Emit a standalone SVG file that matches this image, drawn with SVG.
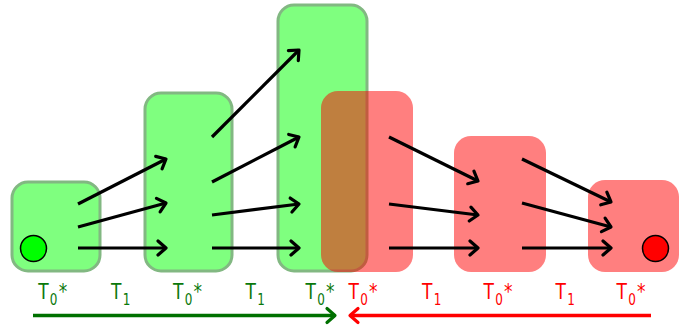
<svg xmlns="http://www.w3.org/2000/svg" width="694" height="326" viewBox="0 0 694 326">
<defs>
<style>
.gbox{fill:#00ff00;fill-opacity:0.5;stroke:#82b882;stroke-width:3}
.rbox{fill:#ff0000;fill-opacity:0.5;stroke:none}
.arr{stroke:#000;stroke-width:3.2;fill:none;marker-end:url(#ah)}
.lbl{font-family:"DejaVu Sans Condensed","DejaVu Sans",sans-serif;font-size:22px}
.g{fill:#0a780a}
.r{fill:#ff0000}
.sub{font-size:15.5px}
</style>
<marker id="ah" viewBox="-10 -10 20 20" markerWidth="20" markerHeight="20" refX="0" refY="0" orient="auto" markerUnits="userSpaceOnUse" overflow="visible">
<path d="M-8,-7 L0,0 L-8,7" fill="none" stroke="#000" stroke-width="3.2" stroke-linejoin="round" stroke-linecap="round"/>
</marker>
<marker id="ahg" viewBox="-10 -10 20 20" markerWidth="20" markerHeight="20" refX="0" refY="0" orient="auto" markerUnits="userSpaceOnUse" overflow="visible">
<path d="M-8,-7 L0,0 L-8,7" fill="none" stroke="#007000" stroke-width="3.2" stroke-linejoin="round" stroke-linecap="round"/>
</marker>
<marker id="ahr" viewBox="-10 -10 20 20" markerWidth="20" markerHeight="20" refX="0" refY="0" orient="auto" markerUnits="userSpaceOnUse" overflow="visible">
<path d="M-8,-7 L0,0 L-8,7" fill="none" stroke="#ff0000" stroke-width="3.2" stroke-linejoin="round" stroke-linecap="round"/>
</marker>
</defs>
<rect width="694" height="326" fill="#fff"/>
<g id="g1"><rect class="gbox" x="12" y="182" width="88" height="89" rx="16"/></g>
<g id="g2"><rect class="gbox" x="145" y="93" width="87" height="178" rx="16"/></g>
<g id="g3"><rect class="gbox" x="278" y="5" width="89" height="266" rx="16"/></g>
<g id="r1"><rect class="rbox" x="321" y="91" width="92" height="181" rx="17"/></g>
<g id="r2"><rect class="rbox" x="454" y="136" width="92" height="136" rx="17"/></g>
<g id="r3"><rect class="rbox" x="588" y="180" width="91" height="92" rx="17"/></g>
<g id="start"><circle cx="33.5" cy="248.5" r="13" fill="#00ff00" stroke="#000" stroke-width="1.5"/></g>
<g id="end"><circle cx="655.5" cy="248.5" r="13" fill="#ff0000" stroke="#000" stroke-width="1.5"/></g>
<g id="connectors">
<line class="arr" x1="78" y1="204" x2="166" y2="159"/>
<line class="arr" x1="78" y1="227" x2="166" y2="203"/>
<line class="arr" x1="78" y1="248" x2="166" y2="248"/>
<line class="arr" x1="212" y1="137" x2="299" y2="50"/>
<line class="arr" x1="212" y1="182" x2="299" y2="137"/>
<line class="arr" x1="212" y1="215" x2="299" y2="204"/>
<line class="arr" x1="212" y1="248" x2="299" y2="248"/>
<line class="arr" x1="389" y1="137" x2="478" y2="181"/>
<line class="arr" x1="389" y1="204" x2="478" y2="215"/>
<line class="arr" x1="389" y1="248" x2="478" y2="248"/>
<line class="arr" x1="522" y1="159" x2="611" y2="202"/>
<line class="arr" x1="522" y1="203" x2="611" y2="227"/>
<line class="arr" x1="522" y1="248" x2="611" y2="248"/>
<line x1="33" y1="315.5" x2="335" y2="315.5" stroke="#007000" stroke-width="3.5" marker-end="url(#ahg)"/>
<line x1="651" y1="315.5" x2="350" y2="315.5" stroke="#ff0000" stroke-width="3.5" marker-end="url(#ahr)"/>
</g>
<g id="labels" class="lbl">
<text class="g" transform="translate(38.2,299.3) scale(0.86,1)">T<tspan class="sub" dx="1.5" dy="5.5">0</tspan><tspan dx="1.5" dy="-5.5">*</tspan></text>
<text class="g" transform="translate(111,299.3) scale(0.86,1)">T<tspan class="sub" dx="1.5" dy="5.5">1</tspan></text>
<text class="g" transform="translate(173,299.3) scale(0.86,1)">T<tspan class="sub" dx="1.5" dy="5.5">0</tspan><tspan dx="1.5" dy="-5.5">*</tspan></text>
<text class="g" transform="translate(245.5,299.3) scale(0.86,1)">T<tspan class="sub" dx="1.5" dy="5.5">1</tspan></text>
<text class="g" transform="translate(305.5,299.3) scale(0.86,1)">T<tspan class="sub" dx="1.5" dy="5.5">0</tspan><tspan dx="1.5" dy="-5.5">*</tspan></text>
<text class="r" transform="translate(348.5,299.3) scale(0.86,1)">T<tspan class="sub" dx="1.5" dy="5.5">0</tspan><tspan dx="1.5" dy="-5.5">*</tspan></text>
<text class="r" transform="translate(422,299.3) scale(0.86,1)">T<tspan class="sub" dx="1.5" dy="5.5">1</tspan></text>
<text class="r" transform="translate(483.5,299.3) scale(0.86,1)">T<tspan class="sub" dx="1.5" dy="5.5">0</tspan><tspan dx="1.5" dy="-5.5">*</tspan></text>
<text class="r" transform="translate(555.5,299.3) scale(0.86,1)">T<tspan class="sub" dx="1.5" dy="5.5">1</tspan></text>
<text class="r" transform="translate(616.5,299.3) scale(0.86,1)">T<tspan class="sub" dx="1.5" dy="5.5">0</tspan><tspan dx="1.5" dy="-5.5">*</tspan></text>
</g>
</svg>
